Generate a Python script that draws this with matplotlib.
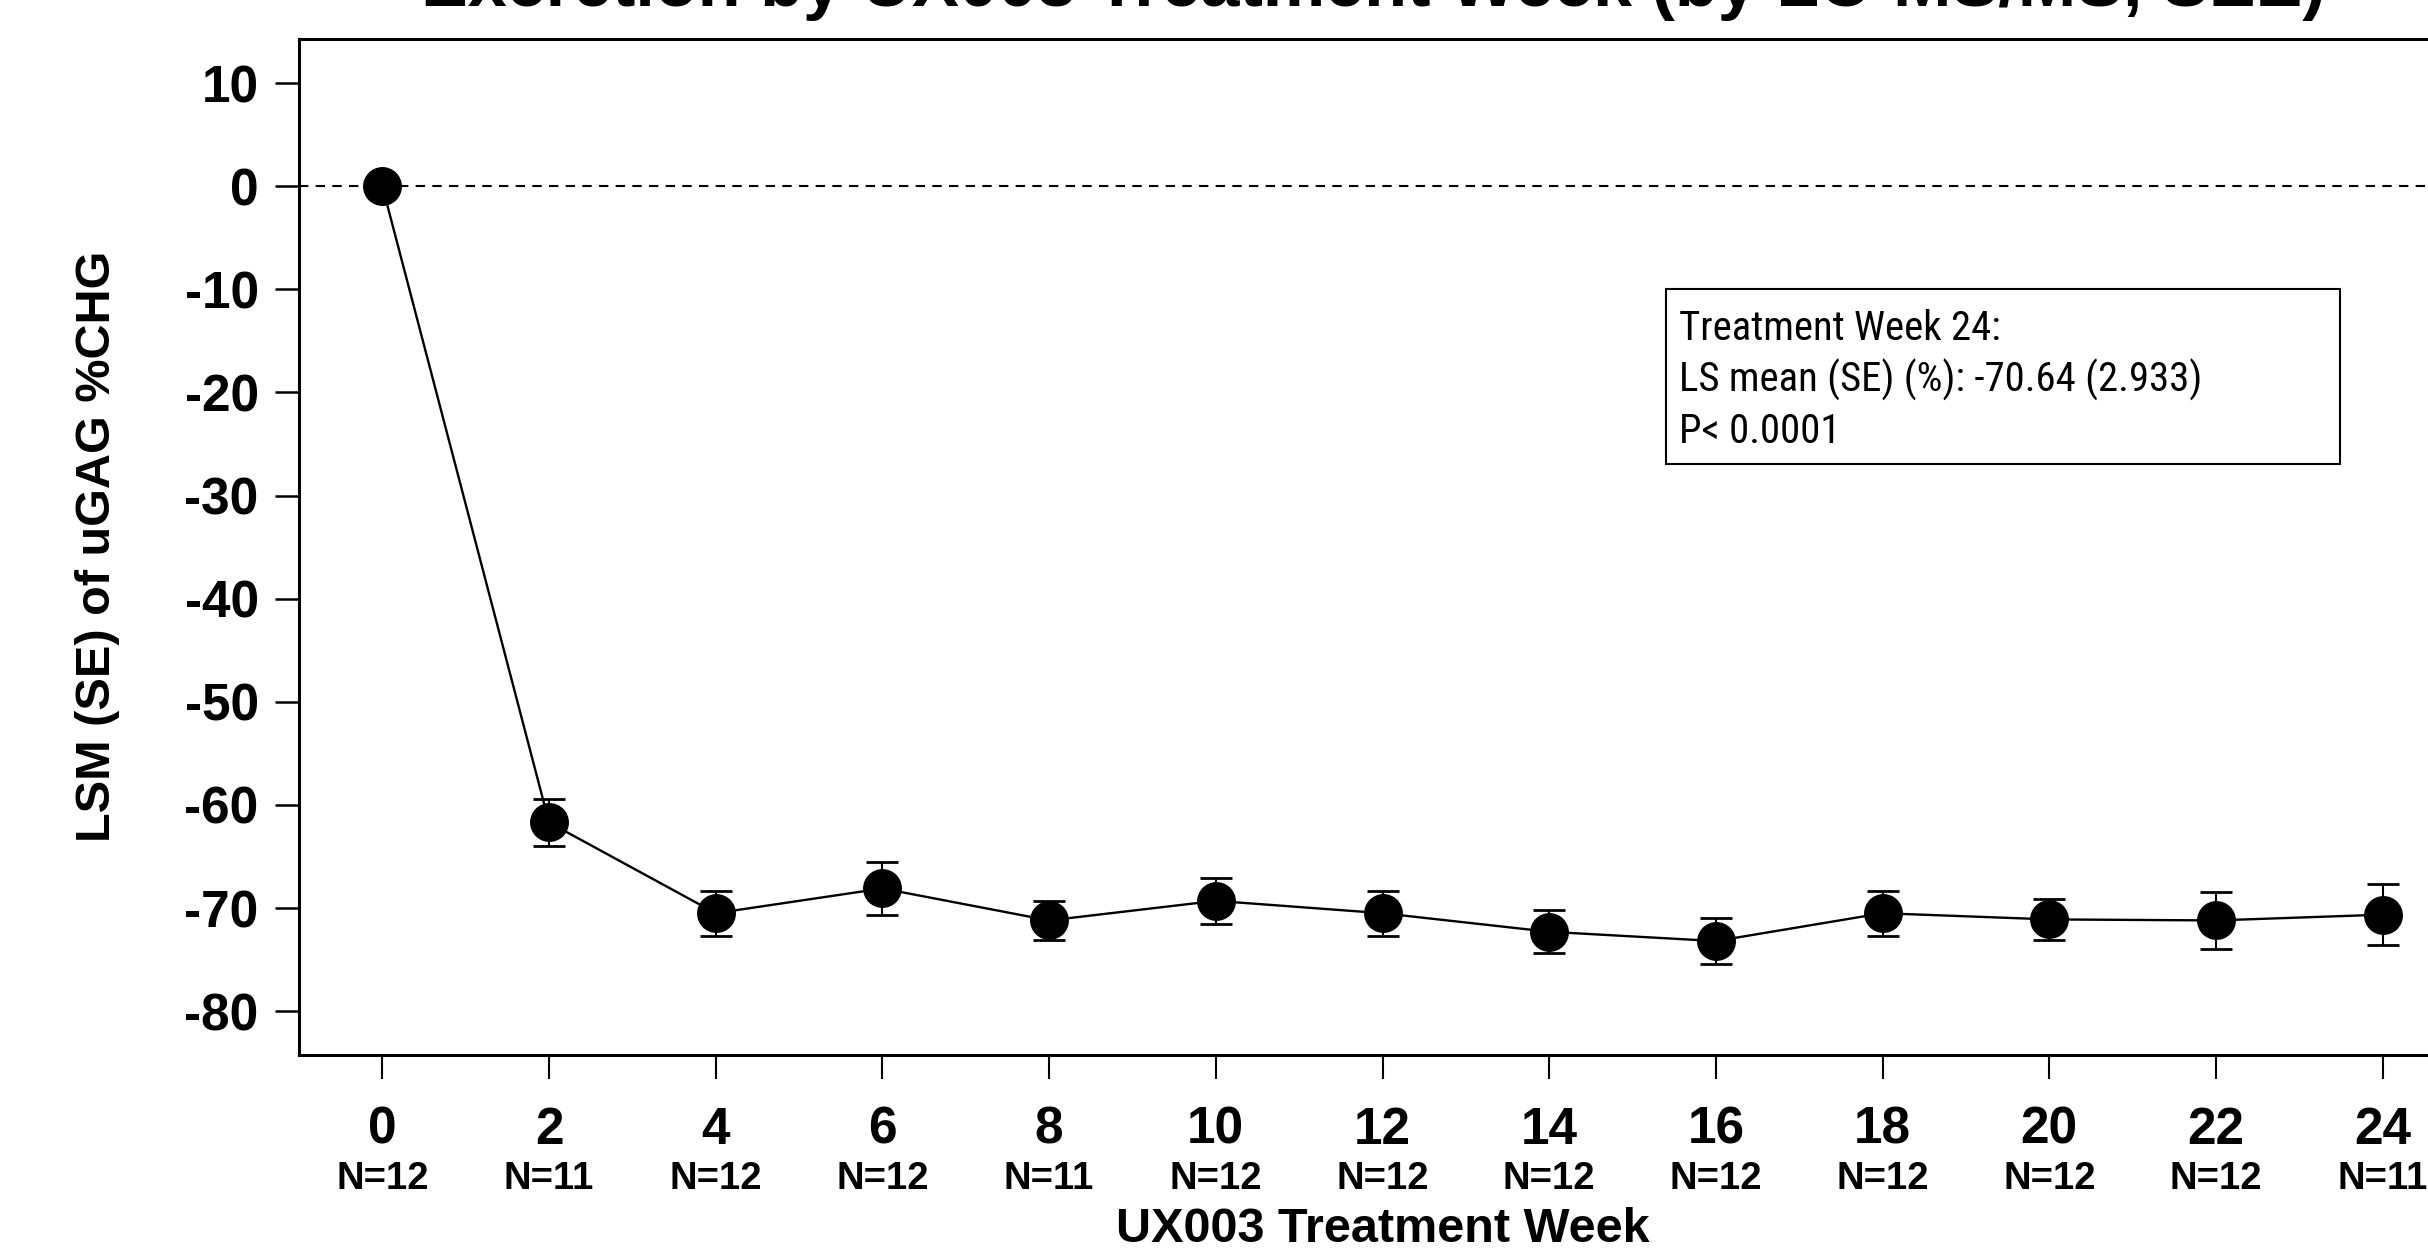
import matplotlib
matplotlib.use("Agg")
import matplotlib.pyplot as plt
from matplotlib import font_manager
from matplotlib.patches import Rectangle
from matplotlib.transforms import blended_transform_factory

# Percent change from baseline in urinary GAG, LS means with SE
weeks = [0, 2, 4, 6, 8, 10, 12, 14, 16, 18, 20, 22, 24]
lsm = [0.0, -61.7, -70.5, -68.1, -71.2, -69.3, -70.5, -72.3, -73.2, -70.5, -71.1, -71.2, -70.64]
se = [0.0, 2.3, 2.2, 2.6, 1.85, 2.2, 2.2, 2.1, 2.2, 2.2, 2.0, 2.8, 2.933]
n_subjects = [12, 11, 12, 12, 11, 12, 12, 12, 12, 12, 12, 12, 11]
y_ticks = [10, 0, -10, -20, -30, -40, -50, -60, -70, -80]

title = "Excretion by UX003 Treatment Week (by LC-MS/MS, SEE)"
x_label = "UX003 Treatment Week"
y_label = "LSM (SE) of uGAG %CHG"
summary_lines = ["Treatment Week 24:",
                 "LS mean (SE) (%): -70.64 (2.933)",
                 "P< 0.0001"]

SANS = ["Liberation Sans", "DejaVu Sans"]
plt.rcParams["font.family"] = SANS

# Summary box text uses a condensed face when one is installed
summary_family, summary_size, summary_stretch = SANS, 25.5, "normal"
installed = {f.name: f for f in font_manager.fontManager.ttflist}
for name, size in [("Liberation Sans Narrow", 30), ("Arial Narrow", 30),
                   ("Roboto Condensed", 29.3), ("Open Sans Condensed", 29)]:
    if name in installed:
        summary_family, summary_size = [name] + SANS, size
        break
else:
    for f in font_manager.fontManager.ttflist:
        if f.name == "DejaVu Sans" and f.stretch == "condensed" and f.weight == 400 \
                and f.style == "normal":
            summary_family, summary_size, summary_stretch = ["DejaVu Sans"], 27, "condensed"
            break

W, H = 2428, 1252
fig = plt.figure(figsize=(W / 100, H / 100), dpi=100)
ax = fig.add_axes([299 / W, 1 - 1054.5 / H, (2466 - 299) / W, (1054.5 - 38.7) / H])

ax.axhline(0, color="black", lw=1.5, ls=(0, (4.5, 3.5)), zorder=1)
ax.plot(weeks, lsm, color="black", lw=1.7, zorder=2)
ax.errorbar(weeks, lsm, yerr=se, fmt="none", ecolor="black", elinewidth=1.5,
            capsize=11.5, capthick=2.0, zorder=3)
ax.plot(weeks, lsm, ls="none", marker="o", ms=27, color="black", zorder=4)

ax.set_xlim(-1, 25)
ax.set_ylim(-84.2, 14.3)

for s in ax.spines.values():
    s.set_linewidth(2.2)

ax.set_yticks(y_ticks)
ax.set_yticklabels([str(v) for v in y_ticks], fontsize=37, fontweight="bold")
ax.tick_params(axis="y", length=17, width=1.8, pad=12)

ax.set_xticks(weeks)
ax.set_xticklabels([str(w) for w in weeks], fontsize=37, fontweight="bold")
ax.tick_params(axis="x", length=17, width=1.5, pad=20)

# Subject counts under each week label
tr = blended_transform_factory(ax.transData, ax.transAxes)
for w, n in zip(weeks, n_subjects):
    ax.text(w, -0.1324, f"N={n}", transform=tr, ha="center", va="baseline",
            fontsize=27.5, fontweight="bold", clip_on=False)

ax.set_xlabel(x_label, fontsize=35, fontweight="bold")
ax.xaxis.set_label_coords(0.5, -0.150)

ax.set_ylabel(y_label, fontsize=35, fontweight="bold")
ax.yaxis.set_label_coords(-0.0928, 0.5)
ax.yaxis.label.set_verticalalignment("center")

# Week-24 summary box
ax.add_patch(Rectangle((0.6308, 0.5813), 0.9419 - 0.6308, 0.7536 - 0.5813,
                       transform=ax.transAxes, fill=False, lw=1.5,
                       edgecolor="black", zorder=5))
for line, yb in zip(summary_lines, [0.7034, 0.6525, 0.6017]):
    ax.text(0.6368, yb, line, transform=ax.transAxes, ha="left", va="baseline",
            fontsize=summary_size, family=summary_family,
            fontstretch=summary_stretch, zorder=6)

fig.text(1373 / W, 1 - 6 / H, title, ha="center", va="baseline",
         fontsize=50.5, fontweight="bold")

fig.savefig("out.png", dpi=100)
